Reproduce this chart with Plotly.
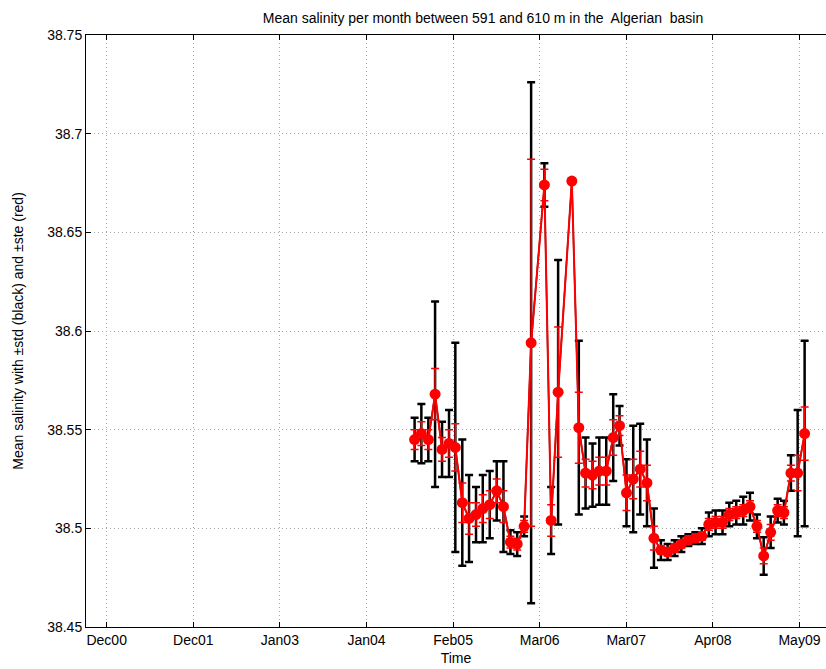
import pandas as pd
import plotly.graph_objects as go

# Monthly mean salinity (591-610 m, Algerian basin) with standard deviation and standard error
months = [
    "2004-08", "2004-09", "2004-10", "2004-11", "2004-12",
    "2005-01", "2005-02", "2005-03", "2005-04", "2005-05", "2005-06",
    "2005-07", "2005-08", "2005-09", "2005-10", "2005-11", "2005-12",
    "2006-01", "2006-03", "2006-04", "2006-05", "2006-07", "2006-08",
    "2006-09", "2006-10", "2006-11", "2006-12",
    "2007-01", "2007-02", "2007-03", "2007-04", "2007-05", "2007-06",
    "2007-07", "2007-08", "2007-09", "2007-10", "2007-11", "2007-12",
    "2008-01", "2008-02", "2008-03", "2008-04", "2008-05", "2008-06",
    "2008-07", "2008-08", "2008-09", "2008-10", "2008-11", "2008-12",
    "2009-01", "2009-02", "2009-03", "2009-04", "2009-05",
]
mean_salinity = [
    38.545, 38.548, 38.545, 38.568, 38.540,
    38.543, 38.541, 38.513, 38.505, 38.507, 38.510,
    38.512, 38.519, 38.511, 38.493, 38.492, 38.501,
    38.594, 38.674, 38.504, 38.569, 38.676, 38.551,
    38.528, 38.527, 38.529, 38.529,
    38.546, 38.552, 38.518, 38.525, 38.530, 38.523,
    38.495, 38.489, 38.488, 38.490, 38.492, 38.494,
    38.495, 38.496, 38.502, 38.503, 38.503, 38.507,
    38.508, 38.509, 38.511, 38.501, 38.486, 38.498,
    38.509, 38.508, 38.528, 38.528, 38.548,
]
std_salinity = [
    0.011, 0.015, 0.011, 0.047, 0.014,
    0.017, 0.053, 0.032, 0.022, 0.014, 0.017,
    0.017, 0.015, 0.023, 0.006, 0.006, 0.005,
    0.132, 0.011, 0.017, 0.067, 0.001, 0.044,
    0.018, 0.016, 0.017, 0.017,
    0.022, 0.010, 0.017, 0.027, 0.023, 0.022,
    0.015, 0.005, 0.004, 0.004, 0.004, 0.003,
    0.003, 0.004, 0.006, 0.006, 0.006, 0.006,
    0.006, 0.007, 0.007, 0.006, 0.0095, 0.008,
    0.006, 0.006, 0.009, 0.032, 0.047,
]
ste_salinity = [
    0.005, 0.006, 0.005, 0.013, 0.006,
    0.007, 0.012, 0.010, 0.008, 0.006, 0.007,
    0.007, 0.006, 0.008, 0.003, 0.003, 0.003,
    0.093, 0.008, 0.008, 0.033, 0.0005, 0.018,
    0.007, 0.007, 0.007, 0.007,
    0.009, 0.005, 0.009, 0.010, 0.009, 0.009,
    0.006, 0.002, 0.002, 0.002, 0.002, 0.002,
    0.002, 0.002, 0.003, 0.003, 0.003, 0.003,
    0.003, 0.003, 0.003, 0.003, 0.004, 0.004,
    0.003, 0.003, 0.004, 0.009, 0.0135,
]

# Time axis ticks: evenly spaced every 385 days from Dec 2000
tick_labels = ["Dec00", "Dec01", "Jan03", "Jan04", "Feb05",
               "Mar06", "Mar07", "Apr08", "May09"]
tick_start = pd.Timestamp("2000-12-01")
tick_step_days = 385
y_ticks = [38.45, 38.5, 38.55, 38.6, 38.65, 38.7, 38.75]
y_tick_labels = ["38.45", "38.5", "38.55", "38.6", "38.65", "38.7", "38.75"]

# each monthly value is stamped at the end of its month
x_dates = [pd.Period(m, freq="M").end_time.normalize() for m in months]
tick_vals = [tick_start + pd.Timedelta(days=tick_step_days * k)
             for k in range(len(tick_labels))]
x_range = [tick_start - pd.Timedelta(days=92), tick_start + pd.Timedelta(days=3198)]

FONT = "Liberation Sans, Arial, sans-serif"

fig = go.Figure()

# mean +/- std (black)
fig.add_trace(go.Scatter(
    x=x_dates, y=mean_salinity, mode="lines",
    line=dict(color="black", width=1.5),
    error_y=dict(type="data", array=std_salinity, color="black",
                 thickness=2.5, width=4),
    showlegend=False, hoverinfo="skip",
))

# mean +/- ste (red) with markers
fig.add_trace(go.Scatter(
    x=x_dates, y=mean_salinity, mode="lines+markers",
    line=dict(color="red", width=2),
    marker=dict(color="red", size=11, symbol="circle"),
    error_y=dict(type="data", array=ste_salinity, color="red",
                 thickness=1.5, width=4),
    showlegend=False,
))

axis_common = dict(
    showline=True, linecolor="black", linewidth=1,
    ticks="inside", ticklen=5, tickcolor="black",
    showgrid=True, gridcolor="#a8a8a8", griddash="1px,3px", gridwidth=1,
    zeroline=False,
    tickfont=dict(family=FONT, size=14, color="black"),
    automargin=False,
)

fig.update_xaxes(
    type="date", range=x_range,
    tickmode="array", tickvals=tick_vals, ticktext=tick_labels,
    mirror="ticks",
    title=dict(text="Time", font=dict(family=FONT, size=14, color="black"),
               standoff=6),
    **axis_common,
)
fig.update_yaxes(
    range=[38.45, 38.75], tickmode="array", tickvals=y_ticks,
    ticktext=y_tick_labels,
    title=dict(text="Mean salinity with \u00b1std (black) and \u00b1ste (red)",
               font=dict(family=FONT, size=14, color="black"), standoff=20),
    **axis_common,
)

fig.update_layout(
    width=826, height=669,
    margin=dict(l=86, r=0, t=35, b=42),
    paper_bgcolor="white", plot_bgcolor="white",
    title=dict(
        text="Mean salinity per month between 591 and 610 m in the  Algerian  basin",
        font=dict(family=FONT, size=14, color="black"),
        x=483 / 826, xanchor="center", xref="container",
        y=1 - 18 / 669, yanchor="middle", yref="container",
    ),
    showlegend=False,
)

fig.write_html("out.html")
